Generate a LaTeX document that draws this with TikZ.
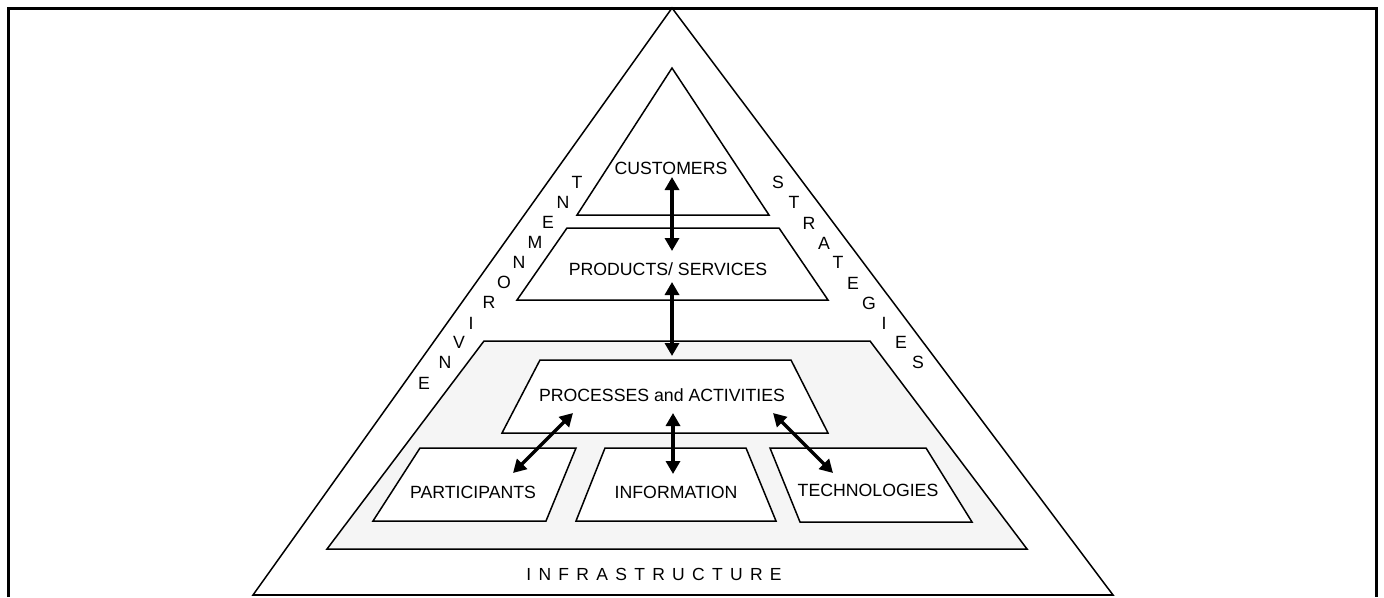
\documentclass[tikz,border=0pt]{standalone}
\usepackage{fontspec}
\setmainfont{Liberation Sans}
\usetikzlibrary{arrows.meta}
\begin{document}
\begin{tikzpicture}[x=1pt,y=-1pt,
  shapeline/.style={draw=black,line width=1.5pt,line join=miter},
  lbl/.style={font=\fontsize{17.7}{20}\selectfont,inner sep=0pt},
  ltr/.style={font=\fontsize{17.7}{20}\selectfont,inner sep=0pt},
  conn/.style={line width=3.4pt,{Triangle[length=13pt,width=14pt]}-{Triangle[length=13pt,width=14pt]}}]
\useasboundingbox (0,0) rectangle (1384,597);
% frame
\draw[line width=3pt] (8,597) -- (8,8) -- (1376,8) -- (1376,597);
% outer triangle
\draw[shapeline] (672,8) -- (253,595) -- (1113,595) -- cycle;
\draw[line width=2.2pt] (253,595) -- (1113,595);
% customers triangle
\draw[shapeline,fill=white] (672,68) -- (577,215) -- (769,215) -- cycle;
% products trapezoid
\draw[shapeline,fill=white] (567,228) -- (779,228) -- (828,300) -- (517,300) -- cycle;
% infrastructure area
\draw[shapeline,fill=black!4] (484,341) -- (870,341) -- (1027,549) -- (327,549) -- cycle;
% processes
\draw[shapeline,fill=white] (540,360) -- (791,360) -- (828,433) -- (502,433) -- cycle;
% participants
\draw[shapeline,fill=white] (420,448) -- (576,448) -- (546,521) -- (373,521) -- cycle;
% information
\draw[shapeline,fill=white] (605,448) -- (746,448) -- (776,521) -- (576,521) -- cycle;
% technologies
\draw[shapeline,fill=white] (770,448) -- (926,448) -- (972,522) -- (800,522) -- cycle;

% labels
\node[lbl] (cust) at (671,168) {CUSTOMERS};
\node[lbl] (prod) at (668,269) {PRODUCTS/ SERVICES};
\node[lbl] (proc) at (662,395) {PROCESSES and ACTIVITIES};
\node[lbl] (part) at (473,492) {PARTICIPANTS};
\node[lbl] (info) at (676,492) {INFORMATION};
\node[lbl] (tech) at (868,490) {TECHNOLOGIES};
\node[font=\fontsize{17.5}{20}\selectfont,inner sep=0pt] (infra) at (654,574)
  {I\hspace{7.3pt}N\hspace{7.3pt}F\hspace{7.3pt}R\hspace{7.3pt}A\hspace{7.3pt}S\hspace{7.3pt}T\hspace{7.3pt}R\hspace{7.3pt}U\hspace{7.3pt}C\hspace{7.3pt}T\hspace{7.3pt}U\hspace{7.3pt}R\hspace{7.3pt}E};

% ENVIRONMENT
\node[ltr] (en1) at (424,383) {E};
\node[ltr] (en2) at (445,362) {N};
\node[ltr] (en3) at (459,342) {V};
\node[ltr] (en4) at (471,323) {I};
\node[ltr] (en5) at (489,302) {R};
\node[ltr] (en6) at (504,282) {O};
\node[ltr] (en7) at (519,262) {N};
\node[ltr] (en8) at (535,242) {M};
\node[ltr] (en9) at (548,222) {E};
\node[ltr] (en10) at (563,202) {N};
\node[ltr] (en11) at (577,182) {T};

% STRATEGIES
\node[ltr] (st1) at (778,182) {S};
\node[ltr] (st2) at (794,202) {T};
\node[ltr] (st3) at (809,223) {R};
\node[ltr] (st4) at (824,243) {A};
\node[ltr] (st5) at (838,262) {T};
\node[ltr] (st6) at (853,283) {E};
\node[ltr] (st7) at (869,303) {G};
\node[ltr] (st8) at (884,323) {I};
\node[ltr] (st9) at (901,342) {E};
\node[ltr] (st10) at (918,362) {S};

% arrow end points
\coordinate (a1) at (672,177);
\coordinate (a2) at (672,251);
\coordinate (b1) at (672,282);
\coordinate (b2) at (672,356);
\coordinate (c1) at (673,413);
\coordinate (c2) at (673,474);
\coordinate (d1) at (573,413);
\coordinate (d2) at (513,473);
\coordinate (e1) at (773,413);
\coordinate (e2) at (833,473);
\draw[conn] (a1) -- (a2);
\draw[conn] (b1) -- (b2);
\draw[conn] (c1) -- (c2);
\draw[conn] (d1) -- (d2);
\draw[conn] (e1) -- (e2);
\end{tikzpicture}
\end{document}
